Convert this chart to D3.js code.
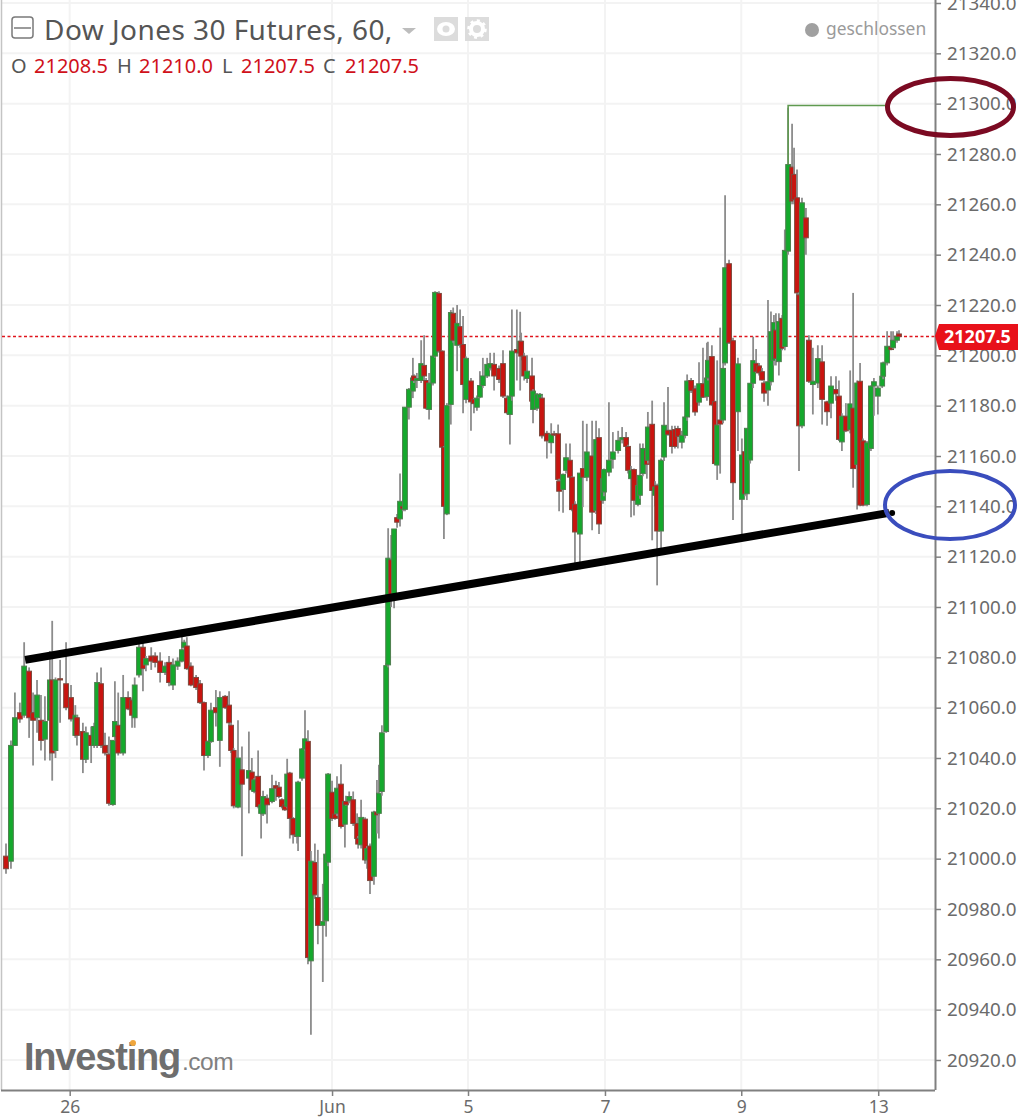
<!DOCTYPE html>
<html><head><meta charset="utf-8">
<script src="https://cdnjs.cloudflare.com/ajax/libs/d3/7.8.5/d3.min.js"></script>
<style>html,body{margin:0;padding:0;background:#fff;overflow:hidden}svg{display:block}</style>
</head><body><svg id="c" width="1018" height="1118"></svg>
<script>
const barSlots=[0,1.5,2.7,4.2,5.5,7,8.2,9.4,10.6,11.8,
13.3,14,15,16.4,18.2,19.7,21,21.5,23.3,24.2,
25.8,26.7,27.6,28.8,30,31.2,32.4,33,34,35.5,
37,38.2,39,40.3,41.5,42.4,44,45.2,46.7,48.2,
49.4,50.6,52,53.3,54,54.8,56,57.6,58.8,60,
61.2,62.1,63.6,64.8,66.4,67.6,68.2,69,70.3,71.5,
73.6,74.5,75.2,76.4,77.3,77.9,79.1,80.6,81.8,82.7,
83.6,84.5,85.2,86,87,88.2,88.5,89.7,90.6,91.5,
92.4,93.6,94.5,96,97,97.6,98.8,99.7,100.3,101.5,
102.7,103,104,105.2,106.4,106.7,107.6,108.8,109.4,110.3,
111.5,112.4,113,113.9,115.2,115.8,116.7,117.6,118.5,119.4,
120.3,120.9,122.1,123.3,123.6,124.5,125.8,126.7,127.3,128.2,
129.4,130,131.2,132.1,132.7,133.6,134.8,135.5,136.7,137.6,
138.5,139.4,140.9,141.8,142.7,143.6,144.5,145.8,146.7,147.9,
149.4,150.6,151.8,152.7,153.3,154.8,155.8,156.1,157,157.9,
159.4,159.7,160.9,161.8,162.4,163.9,165.2,166.1,167.3,167.6,
168.8,169.7,170.9,171.5,172.4,173.9,174.8,176,177.6,178.8,
179.7,180.9,181.2,182.7,183.9,185.5,186.7,187.9,188.5,189.4,
190.3,191.5,192.1,193,194.2,194.5,195.8,196.7,197.3,198.5,
199.4,200.6,201.8,202.7,203.6,204.8,205.8,206.4,207.6,208.8,
210,211.2,212.4,212.7,213.9,214.8,215.5,216.4,217.3,217.9,
219.1,220.3,221.8,223,223.9,224.5,225.5,226.4,227.3,228.2,
229.1,229.7,230.9,231.8,232.7,233.3,234.2,235.2,236,237,
238.2,238.8,239.7,240.3,241.2,242.4,243.3,244.5,246,247.3,
248.8,250,251.5,252.4,253.3,254.5,255.8,256.7,257.9,258.8,
259.7,260.9,262.1,263,264.2,265.5,265.8,267,268.2,268.8,
270,270.6];
const opens=[21001,20999,21045,21058,21057,21074.5,21058,21056,21055,21047.5,
21055,21071,21043,21071.5,21069.5,21064,21049,21056,21050.5,21039.5,
21049,21045,21045,21069.5,21045,21041.5,21021.5,21048.5,21053,21042,
21064,21063,21056,21073,21084,21077,21080.5,21080.5,21078.5,21074,
21078,21069,21076.5,21078.5,21084,21084.5,21076.5,21072,21069.5,21062,
21041,21046.5,21060,21047,21064.5,21061,21053,21043,21020.5,21035.3,
21032,21034.4,21026.7,21032.7,21018,21017.8,21024,21022.7,21029,21028.4,
21023.4,21021.4,21020.7,21034,21016,21009.5,21008.8,21032,21043.6,21046.6,
20959.4,20998.5,20984.6,20973.5,20975.3,20998.6,21026.4,21017.7,21018,21029.6,
21013.7,21022.7,21023,21023.4,21014,21008,21005.5,21015.7,20999.5,21005,
20993,21018.5,21018,21026.7,21050.5,21077,21118.7,21104,21135.5,21135,
21140,21138.8,21179.4,21185.8,21191.8,21190,21190,21196,21190,21178.5,
21189,21199.7,21224.6,21201.7,21163.5,21137,21180.5,21216.7,21204,21211.4,
21204.3,21182.5,21189.8,21182.5,21179.4,21183.4,21188,21191.8,21195,21196.4,
21194.8,21196.7,21183,21176.5,21183.8,21202.3,21201,21205.6,21199.7,21190.8,
21191.8,21178.5,21179,21183,21183,21169,21165.3,21168.8,21168.8,21150,
21146.7,21154.3,21158.3,21151.6,21140.8,21129,21155,21151.6,21160,21138.4,
21167.3,21142.4,21145.7,21153.6,21158.7,21162.2,21166.5,21167.3,21163.8,21151,
21154.6,21140.8,21144.4,21153,21162,21158.3,21172.6,21144.4,21148.3,21130.2,
21159.6,21170.2,21170.2,21170.5,21170.9,21165.5,21168.2,21175.5,21190,21186.7,
21181.4,21188.7,21183.6,21191,21199.5,21181.6,21156.4,21174.3,21174.3,21197,
21236.4,21205.8,21177.6,21142.8,21161.7,21145,21158.4,21188.9,21196.8,21195.8,
21193.5,21189,21186.2,21189.5,21198,21210,21197.5,21214.7,21203.5,21241.4,
21274.8,21271.9,21262.6,21224,21172,21254.6,21206,21188.4,21189,21197.4,
21181.5,21181,21186.4,21183.8,21165.6,21175.8,21170.5,21179,21156.6,21189.7,
21166,21140.7,21163,21187.8,21183.8,21187.8,21191.7,21197,21203.3,21203,
21206,21208.5];
const highs=[21006,21047,21066,21062,21086,21076,21066,21071,21065,21064.5,
21082.5,21094.5,21072,21079,21086,21069,21061,21057,21054,21052.5,
21052.5,21054,21074,21076,21050,21048.5,21047,21070.5,21066,21073,
21066.5,21064,21072,21086,21086,21080.5,21084,21082,21082,21078,
21080.5,21079.5,21080,21091,21087,21088,21078,21073,21071,21062.5,
21047,21062,21067,21066.5,21065,21066.5,21054,21044,21055,21044.6,
21050.5,21040,21032,21043,21022,21027,21025.5,21033.3,21031,21030.5,
21024,21022,21039.7,21034.5,21016.5,21010,21031,21044,21059,21051,
21003,21006,21003.5,20990,21002,21034,21031,21018.5,21032.7,21037.5,
21023,21025,21026.7,21026.7,21018,21009,21023.4,21016.5,21005,21006,
21019,21031.3,21037.3,21053,21077.7,21131.3,21128.6,21131,21137,21153,
21141,21179.4,21187,21199,21192.5,21193,21206,21208,21191,21193,
21200,21225.5,21225.5,21202,21164,21181,21218,21219,21220,21218.2,
21215.6,21199.5,21191,21183,21184,21193.7,21199,21199,21201,21201,
21196,21202,21184,21184.5,21218.2,21218.2,21217.3,21209,21201,21200,
21199,21186.5,21185,21185,21184,21170,21173,21170,21172.5,21151,
21153,21165,21165,21152,21142,21153.2,21174,21172.8,21174,21174,
21171,21153,21155,21181.4,21169.5,21170,21171.5,21169.5,21164.5,21156,
21155,21150,21165,21165,21163,21177.5,21182,21150,21149,21159,
21181.4,21187.4,21172,21172,21172,21170,21176,21192.4,21191,21188,
21197.3,21203,21205,21205.4,21204,21182,21198,21211,21210,21263.6,
21238,21207,21199,21167,21163,21171,21189,21207.4,21202.5,21197,
21195,21190,21222,21217.4,21216,21216.7,21216.7,21216,21250,21298.4,
21292,21282.5,21273.8,21225,21262.6,21258.5,21208,21203,21204,21204,
21182,21191.7,21191.7,21190,21177,21181,21194,21224.8,21190,21197,
21167,21166,21188,21191,21188,21192,21197.5,21209.6,21209.6,21209.6,
21209.6,21210];
const lows=[20994,20996,21045,21054,21056,21048,21037,21050,21043,21039,
21039,21031,21040,21054,21059,21054.5,21048,21045,21034,21038,
21038,21044,21044,21044,21041,21021,21021,21047,21041,21041,
21059,21052,21052,21072,21066.5,21074.5,21075,21076,21070,21073,
21068.5,21067,21075,21078,21083,21075,21068.5,21067,21061.5,21035,
21040,21046,21052.5,21036.5,21059.5,21053,21042,21020,21020,21001,
21018,21027,21026,21020,21008,21017,21014,21022,21023,21024,
21020,21019,21020,21008,21006,21006,21003,21031,21043,20958,
20930,20984,20966,20951,20969,20997,21015,21015.5,21017,21012,
21004.4,21021,21022,21013,21007,21004,21004,20998,20996,20986,
20989.6,21010,21008,21025,21050,21076,21100,21099.5,21131.5,21132,
21138,21138,21174.5,21183,21189,21187,21189,21190,21178.5,21174.5,
21188,21199,21201,21163,21127,21136.5,21172.5,21205,21193.7,21203,
21177,21181,21170,21177,21178,21183,21187,21191,21194,21186,
21189,21183,21176.5,21164.6,21182,21190,21186,21198,21190,21189,
21181,21173,21178,21182,21167,21159,21161,21168,21150,21138,
21137.5,21153,21150,21138,21115,21115,21139.7,21150,21130.5,21137,
21129,21141,21144,21152,21155,21161,21165,21162,21153,21135.7,
21136.4,21140,21143,21152,21151,21157,21126.5,21140,21108.6,21123,
21158,21168,21161,21163,21163,21163,21167,21174,21185,21176,
21180,21183,21182,21190,21180,21156.5,21150.5,21153,21173,21196,
21204.5,21134.6,21162,21128,21144,21142.5,21157,21187,21193,21192,
21190,21181.6,21180,21188,21196,21196,21192,21202,21202,21240,
21260,21260,21224,21154,21171,21240,21189,21176.5,21187,21172.5,
21172,21175,21182,21166,21162,21169.5,21169,21147.4,21138.7,21140,
21140,21140,21162,21176,21176.5,21187,21190.5,21196,21202,21202.5,
21205,21207.5];
const closes=[20996,21045,21056,21055.5,21076.5,21056,21055,21065,21047,21054.5,
21071,21042,21071,21071,21060,21055.5,21057,21049,21039.5,21050,
21045,21052.5,21070,21045,21042,21022,21047,21054.5,21042,21064,
21059.5,21057,21069,21084,21075.5,21079.5,21078.5,21078,21074,21076.5,
21070,21077,21078.5,21083,21086,21075.5,21069,21068,21062,21041,
21046.5,21059,21058,21064,21060,21054,21043,21021,21040,21029.6,
21035,21027.4,21031.3,21020.7,21021.4,21024.7,21021.4,21027.8,21028,21024.7,
21020.7,21019.4,21033.6,21016,21009.5,21008.8,21030.4,21043.6,21047.6,20960.7,
20999,20985.6,20973.5,20975,21001.8,21033.6,21016,21016,21028,21012.8,
21022.7,21021.4,21024.7,21014,21008,21005.8,21016.4,20999.5,21004,20991.3,
21018.5,21017.4,21026,21050,21076.7,21119.4,21104,21131,21133.7,21142,
21139,21179.4,21186.5,21191,21190,21190.8,21196.7,21191.8,21179,21189,
21199.7,21225,21201.7,21163.5,21140,21180,21217,21206,21212.7,21204.3,
21188.4,21198.8,21181.5,21180.8,21183,21188,21191.8,21196.4,21196.7,21191.8,
21190.4,21183.8,21177.2,21183.8,21201.7,21201,21205.6,21199.7,21191.8,21193.7,
21181.8,21185.8,21184.5,21184.5,21168,21166,21168.6,21168.3,21150.7,21146,
21152.7,21159.3,21151.6,21138.7,21129.8,21153.2,21151.6,21161.6,21137.7,21166.5,
21133,21151,21154.6,21158.3,21161.6,21166.2,21167.3,21163.8,21154.3,21154.3,
21142.4,21148.3,21152.3,21163,21156.7,21171.5,21146.3,21147.7,21130.2,21158.3,
21172.2,21168.6,21163.8,21163.8,21167.8,21168.2,21175.5,21189.8,21186,21177.5,
21188.7,21183.4,21191,21198,21180.3,21157,21172.3,21172.7,21194.8,21234.8,
21205,21149.4,21196.6,21160.4,21145,21171,21188.9,21197.9,21193.5,21193,
21190.2,21185,21189.5,21209.4,21213,21198.8,21213.4,21202.8,21241.7,21275.8,
21261.3,21261.9,21224.8,21172,21260.6,21246.7,21189.7,21189.7,21198.7,21182.5,
21177.6,21187.8,21184.7,21166.6,21175.8,21170,21180.7,21155,21189,21140.5,
21140.5,21165.2,21187.8,21189.5,21187,21191.7,21197,21203.6,21202.3,21206,
21207.6,21207.5];

const priceTicks=[21340,21320,21300,21280,21260,21240,21220,21200,21180,21160,21140,21120,21100,21080,21060,21040,21020,21000,20980,20960,20940,20920];
const dayTickSlots=[19.3,98.8,140,181.5,222.8,264.3];
const dayTickLabels=["26","Jun","5","7","9","13"];
const lastPrice=21207.5;
const trendSlots=[5.8,267.6];
const trendValues=[21079,21137.4];
const highLeaderSlots=[237,267];
const highLeaderValue=21299.3;
const highLeaderFoot=21276;
const titleText="Dow Jones 30 Futures, 60,";
const ohlcLegend=[["O","21208.5"],["H","21210.0"],["L","21207.5"],["C","21207.5"]];

const W=1018,H=1118,axisX=935,axisY=1090;
const svg=d3.select("#c");
const FONT="'Noto Sans',sans-serif";
const y=d3.scaleLinear().domain([20920,21340]).range([1060,3]);
const x=d3.scaleLinear().domain([0,270.6]).range([6,899]);

const bars=barSlots.map((s,i)=>({s,o:opens[i],h:highs[i],l:lows[i],c:closes[i]}));

// grid
svg.append("g").selectAll("line").data(priceTicks).join("line")
 .attr("x1",2).attr("x2",axisX).attr("y1",d=>y(d)).attr("y2",d=>y(d))
 .attr("stroke","#f3f3f3").attr("stroke-width",2);
svg.append("g").selectAll("line").data(dayTickSlots).join("line")
 .attr("x1",d=>x(d)).attr("x2",d=>x(d)).attr("y1",0).attr("y2",axisY)
 .attr("stroke","#f3f3f3").attr("stroke-width",2);
svg.append("line").attr("x1",1.5).attr("x2",1.5).attr("y1",0).attr("y2",axisY).attr("stroke","#c4c4c4").attr("stroke-width",1.5);

// price line
svg.append("line").attr("x1",2).attr("x2",axisX).attr("y1",y(lastPrice)).attr("y2",y(lastPrice))
 .attr("stroke","#e0141c").attr("stroke-width",1.5).attr("stroke-dasharray","3 2.5");

// candles
const candleLayer=svg.append("g").style("filter","blur(0.35px)");
const g=candleLayer.selectAll("g").data(bars).join("g");
g.append("line").attr("x1",d=>x(d.s)).attr("x2",d=>x(d.s)).attr("y1",d=>y(d.h)).attr("y2",d=>y(d.l))
 .attr("stroke","#8c8c8c").attr("stroke-width",1.8);
g.append("rect")
 .attr("x",d=>x(d.s)-2.4).attr("width",4.8)
 .attr("y",d=>y(Math.max(d.o,d.c)))
 .attr("height",d=>Math.max(1,Math.abs(y(d.o)-y(d.c))))
 .attr("fill",d=>d.c>=d.o?"#14a92c":"#c9140f")
 .attr("stroke",d=>d.c>=d.o?"#4f7f4f":"#7d4a3e").attr("stroke-width",1);

// high leader
svg.append("path").attr("fill","none").attr("stroke","#5f9a50").attr("stroke-width",1.6)
 .attr("d",d3.line()([[x(highLeaderSlots[0]),y(highLeaderFoot)],[x(highLeaderSlots[0]),y(highLeaderValue)],[x(highLeaderSlots[1]),y(highLeaderValue)]]));

// trend line
svg.append("line").attr("x1",x(trendSlots[0])).attr("x2",x(trendSlots[1]))
 .attr("y1",y(trendValues[0])).attr("y2",y(trendValues[1])).attr("stroke","#000").attr("stroke-width",8);
svg.append("circle").attr("cx",x(trendSlots[1])+3).attr("cy",y(trendValues[1])).attr("r",3).attr("fill","#000");

// axes
const right=d3.axisRight(y).tickValues(priceTicks).tickFormat(d3.format(".1f")).tickSize(6).tickPadding(6);
const ra=svg.append("g").attr("transform",`translate(${axisX},0)`).call(right);
ra.select(".domain").attr("d",`M0.5,0V${axisY}`).attr("stroke","#808080").attr("stroke-width",2);
ra.selectAll(".tick line").attr("stroke","#808080").attr("stroke-width",1.5);
ra.selectAll("text").attr("fill","#6b6b6b").attr("font-family",FONT).attr("font-size",18.8);

const bottom=d3.axisBottom(x).tickValues(dayTickSlots).tickFormat((d,i)=>dayTickLabels[i]).tickSize(6).tickPadding(5);
const ba=svg.append("g").attr("transform",`translate(0,${axisY})`).call(bottom);
ba.select(".domain").attr("d",`M1,0.5H${axisX}`).attr("stroke","#808080").attr("stroke-width",2);
ba.selectAll(".tick line").attr("stroke","#808080").attr("stroke-width",1.5);
ba.selectAll("text").attr("fill","#6b6b6b").attr("font-family",FONT).attr("font-size",17.5);

// price label
svg.append("path").attr("fill","#e8111a").attr("d",`M${axisX},336 L${axisX+4},324 H${W} V350 H${axisX+4} Z`);
svg.append("text").attr("x",944).attr("y",343).attr("fill","#fff").attr("font-family",FONT).attr("font-weight",700).attr("font-size",18).text(d3.format(".1f")(lastPrice));

// ellipses
svg.append("ellipse").attr("cx",950.5).attr("cy",107).attr("rx",63).attr("ry",28.5).attr("fill","none").attr("stroke","#7b0a22").attr("stroke-width",5);
svg.append("ellipse").attr("cx",950).attr("cy",505).attr("rx",65).attr("ry",34).attr("fill","none").attr("stroke","#3a4dbd").attr("stroke-width",4);

// header
svg.append("rect").attr("x",12).attr("y",17).attr("width",21).attr("height",21).attr("rx",3).attr("fill","none").attr("stroke","#7a7a7a").attr("stroke-width",1.5);
svg.append("line").attr("x1",14).attr("x2",31).attr("y1",28).attr("y2",28).attr("stroke","#7a7a7a").attr("stroke-width",1.5);
svg.append("text").attr("x",44).attr("y",40).attr("fill","#555").attr("font-family",FONT).attr("font-size",28).attr("letter-spacing",0.45).text(titleText);
svg.append("path").attr("d","M402,28H416L409,34Z").attr("fill","#bdbdbd");
[[434,"eye"],[465,"gear"]].forEach(([bx,k])=>{
 svg.append("rect").attr("x",bx).attr("y",17).attr("width",24).attr("height",24).attr("fill","#dcdcdc");
 if(k==="eye"){svg.append("ellipse").attr("cx",bx+12).attr("cy",29).attr("rx",9).attr("ry",7).attr("fill","#fff");
  svg.append("circle").attr("cx",bx+12).attr("cy",29).attr("r",3.5).attr("fill","#dcdcdc");}
 else{svg.append("circle").attr("cx",bx+12).attr("cy",29).attr("r",6).attr("fill","none").attr("stroke","#fff").attr("stroke-width",4);
  svg.append("circle").attr("cx",bx+12).attr("cy",29).attr("r",8.5).attr("fill","none").attr("stroke","#fff").attr("stroke-width",2.5).attr("stroke-dasharray","3 3.6");}
});
const legendX=[[11,34],[117,139],[222,241],[323,345]];
ohlcLegend.forEach(([k,v],i)=>{
 svg.append("text").attr("x",legendX[i][0]).attr("y",73).attr("fill","#555").attr("font-family",FONT).attr("font-size",20).text(k);
 svg.append("text").attr("x",legendX[i][1]).attr("y",73).attr("fill","#d0101a").attr("font-family",FONT).attr("font-size",20).text(v);
});
svg.append("circle").attr("cx",812).attr("cy",30).attr("r",7).attr("fill","#a0a0a0");
svg.append("text").attr("x",826).attr("y",35).attr("fill","#9a9a9a").attr("font-family",FONT).attr("font-size",17.4).text("geschlossen");

// logo
svg.append("text").attr("x",24).attr("y",1070).attr("fill","#6e6e6e").attr("font-family","'Liberation Sans',sans-serif").attr("font-weight",700).attr("font-size",38).attr("letter-spacing",-1.2).text("Investing");
svg.append("text").attr("x",182).attr("y",1070).attr("fill","#808080").attr("font-family","'Liberation Sans',sans-serif").attr("font-size",24.5).attr("letter-spacing",-0.5).text(".com");
svg.append("circle").attr("cx",133).attr("cy",1043).attr("r",3).attr("fill","#f0a63c");
</script></body></html>
